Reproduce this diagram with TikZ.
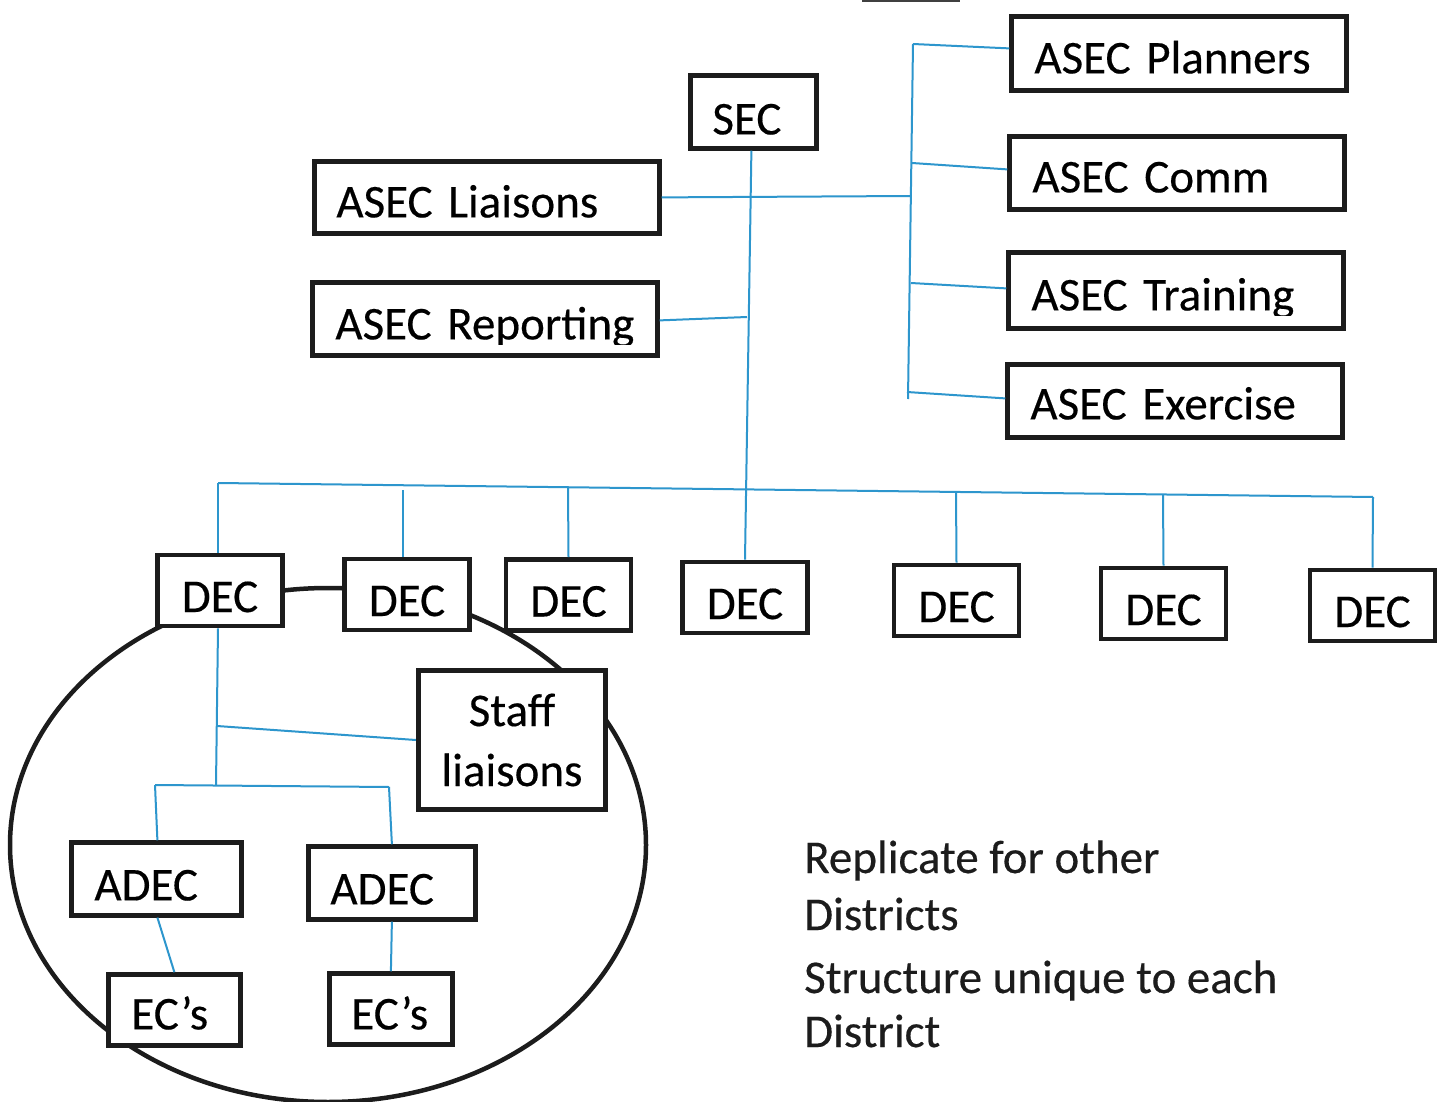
\documentclass[tikz,border=0pt]{standalone}
\usepackage{fontspec}
\setmainfont{Carlito}[FakeBold=0.35]
\usetikzlibrary{shapes.geometric}
\definecolor{lnblue}{RGB}{45,150,205}
\definecolor{inkblack}{RGB}{28,28,28}
\begin{document}
\begin{tikzpicture}[x=1pt,y=-1pt,
  bigfont/.style={font=\fontsize{47}{60}\selectfont},
  bx/.style={draw=inkblack, line width=4.8pt, fill=white, bigfont, inner ysep=0pt},
  lbx/.style={bx, anchor=north west, align=left, text depth=10pt},
  decbx/.style={bx, align=center, minimum width=125pt, minimum height=71pt, text height=53pt, text depth=10pt},
  conn/.style={draw=lnblue, line width=2pt},
  notetext/.style={bigfont, anchor=base west, inner sep=0pt, text=inkblack},
]
\fill[white] (0,0) rectangle (1444,1102);
\useasboundingbox (0,0) rectangle (1444,1102);

% scan mark at the top edge
\draw[line width=3pt, black!75] (862,1) -- (960,1);

% district ellipse (behind the boxes)
\node[ellipse, draw=inkblack, line width=4.5pt, minimum width=636pt, minimum height=514pt, inner sep=0pt] (district) at (328,845) {};

% top level
\node[lbx, minimum width=125.5pt, minimum height=72.5pt, inner xsep=21.75pt, text width=82pt, text height=55pt] (sec) at (688.25,73.25) {SEC};
\node[lbx, minimum width=344.5pt, minimum height=71.5pt, inner xsep=21.75pt, text width=301pt, text height=50pt] (liaisons) at (312.25,159.25) {ASEC Liaisons};
\node[lbx, minimum width=344.5pt, minimum height=72.5pt, inner xsep=22.75pt, text width=299pt, text height=51pt] (reporting) at (310.25,280.25) {ASEC Reporting};
\node[lbx, minimum width=334.5pt, minimum height=73.5pt, inner xsep=22.75pt, text width=289pt, text height=50pt] (planners) at (1009.25,14.25) {ASEC Planners};
\node[lbx, minimum width=334.5pt, minimum height=72.5pt, inner xsep=22.75pt, text width=289pt, text height=49pt] (comm) at (1007.25,134.25) {ASEC Comm};
\node[lbx, minimum width=334.5pt, minimum height=75.5pt, inner xsep=22.75pt, text width=289pt, text height=50pt] (training) at (1006.25,250.25) {ASEC Training};
\node[lbx, minimum width=334.5pt, minimum height=72.5pt, inner xsep=22.75pt, text width=289pt, text height=47pt] (exercise) at (1005.25,362.25) {ASEC Exercise};

% descenders cut off inside these two boxes
\fill[white] ([xshift=5pt,yshift=4.9pt]reporting.south west) rectangle ([xshift=-5pt,yshift=13pt]reporting.south east);
\fill[white] ([xshift=5pt,yshift=4.9pt]training.south west) rectangle ([xshift=-5pt,yshift=15pt]training.south east);

% DEC row
\node[decbx] (dec1) at (220,590.5) {DEC};
\node[decbx] (dec2) at (407,594.5) {DEC};
\node[decbx] (dec3) at (568.5,595) {DEC};
\node[decbx] (dec4) at (745,597.5) {DEC};
\node[decbx] (dec5) at (956.5,600.5) {DEC};
\node[decbx] (dec6) at (1163.5,603.5) {DEC};
\node[decbx] (dec7) at (1372.5,605.5) {DEC};

% inside district
\node[bx, align=center, minimum width=187.5pt, minimum height=139.5pt] (staff) at (512,740) {Staff\\liaisons};
\node[lbx, minimum width=169.5pt, minimum height=72.5pt, inner xsep=22.75pt, text width=124pt, text height=53pt] (adec1) at (69.25,840.25) {ADEC};
\node[lbx, minimum width=166.5pt, minimum height=72.5pt, inner xsep=21.75pt, text width=123pt, text height=53pt] (adec2) at (306.25,844.25) {ADEC};
\node[lbx, minimum width=131.5pt, minimum height=70.5pt, inner xsep=22.75pt, text width=86pt, text height=49pt] (ec1) at (106.25,972.25) {EC’s};
\node[lbx, minimum width=122.5pt, minimum height=70.5pt, inner xsep=21.75pt, text width=79pt, text height=51pt] (ec2) at (327.25,971.25) {EC’s};

% note
\node[notetext] (note1) at (804,873) {Replicate for other};
\node[notetext] (note2) at (804,930) {Districts};
\node[notetext] (note3) at (804,993) {Structure unique to each};
\node[notetext] (note4) at (804,1047) {District};

% junction coordinates
\coordinate (jR) at (911,196);
\coordinate (jRep) at (747,317);
\coordinate (b1) at (913,44);
\coordinate (b2) at (912,163);
\coordinate (b3) at (911,283);
\coordinate (b4) at (907,392);
\coordinate (bEnd) at (908,399);
\coordinate (busL) at (218,483);
\coordinate (busR) at (1373,497);
\coordinate (t2) at (403,490);
\coordinate (t3) at (568,487);
\coordinate (t5) at (956,492);
\coordinate (t6) at (1163,494.5);
\coordinate (k1) at (216,785);
\coordinate (k2) at (217,726);
\coordinate (aL) at (155,785);
\coordinate (aR) at (389,787);

% connectors
\draw[conn] ([xshift=-2pt]sec.south) -- (dec4.north);
\draw[conn] (liaisons.east) -- (jR);
\draw[conn] ([yshift=-1.5pt]reporting.east) -- (jRep);
\draw[conn] (b1) -- (bEnd);
\draw[conn] (b1) -- ([yshift=5pt]planners.west);
\draw[conn] (b2) -- ([yshift=3.5pt]comm.west);
\draw[conn] (b3) -- ([yshift=2pt]training.west);
\draw[conn] (b4) -- ([yshift=2.5pt]exercise.west);
\draw[conn] (busL) -- (busR);
\draw[conn] (busL) -- ([xshift=-2pt]dec1.north);
\draw[conn] (t2) -- ([xshift=-4pt]dec2.north);
\draw[conn] (t3) -- (dec3.north);
\draw[conn] (t5) -- (dec5.north);
\draw[conn] (t6) -- (dec6.north);
\draw[conn] (busR) -- (dec7.north);
\draw[conn] ([xshift=-2pt]dec1.south) -- (k1);
\draw[conn] (k2) -- (staff.west);
\draw[conn] (aL) -- (aR);
\draw[conn] (aL) -- ([xshift=1pt]adec1.north);
\draw[conn] (aR) -- (adec2.north);
\draw[conn] ([xshift=1pt]adec1.south) -- (ec1.north);
\draw[conn] (adec2.south) -- (ec2.north);
\end{tikzpicture}
\end{document}
